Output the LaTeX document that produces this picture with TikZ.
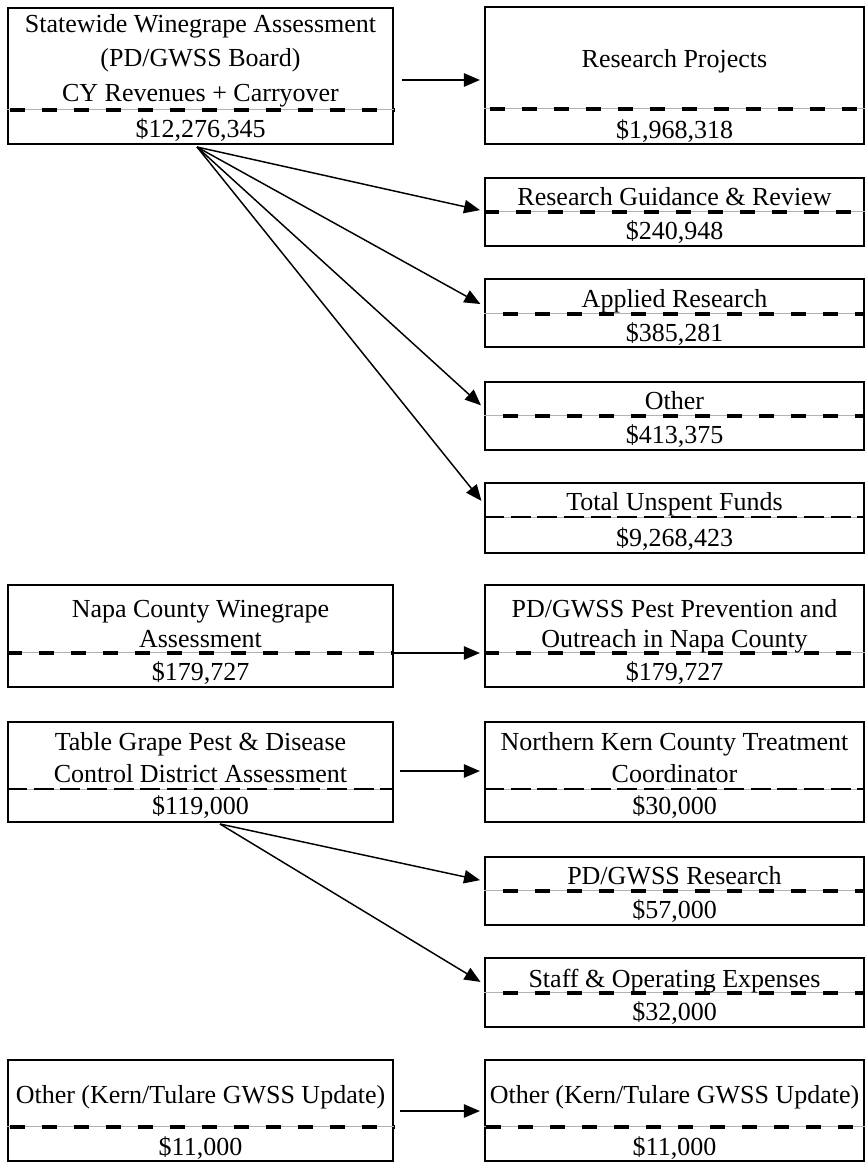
\documentclass[tikz,border=0pt]{standalone}
\usepackage{fontspec}
\setmainfont{Liberation Serif}
\usetikzlibrary{arrows.meta,fit}
\newcommand\fs{\fontsize{19.5}{23}\selectfont}
\begin{document}
\begin{tikzpicture}[x=0.75pt,y=-0.75pt,
  boxst/.style={draw, line width=1.6pt, inner sep=0pt, rectangle},
  lbl/.style={anchor=base, inner sep=0pt, font=\fs},
  guide/.style={draw=black!30, line width=0.5pt},
  thickdash/.style={line width=2.8pt, dash pattern=on 11.25pt off 12.75pt},
  thindash/.style={line width=1.1pt, dash pattern=on 15pt off 5pt},
  arr/.style={line width=1.1pt, -{Triangle[length=12pt,width=10pt]}, shorten >=3pt}]
\useasboundingbox (0,0) rectangle (866,1163);
\fill[white] (0,0) rectangle (866,1163);

% ---- boxes ----
\node[boxst, fit={(8,8) (393,144)}] (b1) {};
\node[boxst, fit={(485,7) (864,144)}] (rp) {};
\node[boxst, fit={(485,178) (864,246)}] (rgr) {};
\node[boxst, fit={(485,279) (864,347)}] (ar) {};
\node[boxst, fit={(485,382) (864,450)}] (ot) {};
\node[boxst, fit={(485,483) (864,553)}] (tu) {};
\node[boxst, fit={(8,585) (393,687)}] (napa) {};
\node[boxst, fit={(485,585) (864,687)}] (napr) {};
\node[boxst, fit={(8,722) (393,822)}] (tg) {};
\node[boxst, fit={(485,722) (864,822)}] (nk) {};
\node[boxst, fit={(485,857) (864,925)}] (pdr) {};
\node[boxst, fit={(485,958) (864,1027)}] (st) {};
\node[boxst, fit={(8,1060) (393,1161)}] (kl) {};
\node[boxst, fit={(485,1060) (864,1161)}] (kr) {};

% ---- dividers ----
\draw[guide] (b1.west |- 0,109) -- (b1.east |- 0,109);
\draw[thickdash] (10,110) -- (b1.east |- 0,110);
\draw[guide] (rp.west |- 0,108) -- (rp.east |- 0,108);
\draw[thickdash] (490,109) -- (rp.east |- 0,109);
\draw[guide] (rgr.west |- 0,211) -- (rgr.east |- 0,211);
\draw[thickdash] (rgr.west |- 0,212) -- (rgr.east |- 0,212);
\draw[guide] (ar.west |- 0,313) -- (ar.east |- 0,313);
\draw[thickdash] (503,314) -- (ar.east |- 0,314);
\draw[guide] (ot.west |- 0,415) -- (ot.east |- 0,415);
\draw[thickdash] (503,416) -- (ot.east |- 0,416);
\draw[guide] (tu.west |- 0,517) -- (tu.east |- 0,517);
\draw[thindash] (tu.west |- 0,517) -- (tu.east |- 0,517);
\draw[guide] (napa.west |- 0,652) -- (napa.east |- 0,652);
\draw[thickdash] (napa.west |- 0,653) -- (napa.east |- 0,653);
\draw[guide] (napr.west |- 0,652) -- (napr.east |- 0,652);
\draw[thickdash] (napr.west |- 0,653) -- (napr.east |- 0,653);
\draw[guide] (tg.west |- 0,789) -- (tg.east |- 0,789);
\draw[thindash] (tg.west |- 0,789) -- (tg.east |- 0,789);
\draw[guide] (nk.west |- 0,789) -- (nk.east |- 0,789);
\draw[thindash] (nk.west |- 0,789) -- (nk.east |- 0,789);
\draw[guide] (pdr.west |- 0,890) -- (pdr.east |- 0,890);
\draw[thickdash] (503,891) -- (pdr.east |- 0,891);
\draw[guide] (st.west |- 0,992) -- (st.east |- 0,992);
\draw[thickdash] (503,993) -- (st.east |- 0,993);
\draw[guide] (kl.west |- 0,1126) -- (kl.east |- 0,1126);
\draw[thickdash] (10,1127) -- (kl.east |- 0,1127);
\draw[guide] (kr.west |- 0,1126) -- (kr.east |- 0,1126);
\draw[thickdash] (486,1127) -- (kr.east |- 0,1127);

% ---- texts ----
\node[lbl] (b1a) at (200.5,33) {Statewide Winegrape Assessment};
\node[lbl] (b1b) at (200.5,67) {(PD/GWSS Board)};
\node[lbl] (b1c) at (200.5,102) {CY Revenues + Carryover};
\node[lbl] (b1v) at (200.5,137) {\$12,276,345};
\node[lbl] (rpa) at (674.5,68) {Research Projects};
\node[lbl] (rpv) at (674.5,138) {\$1,968,318};
\node[lbl] (rgra) at (674.5,205) {Research Guidance \& Review};
\node[lbl] (rgrv) at (674.5,239) {\$240,948};
\node[lbl] (ara) at (674.5,307) {Applied Research};
\node[lbl] (arv) at (674.5,341) {\$385,281};
\node[lbl] (ota) at (674.5,409) {Other};
\node[lbl] (otv) at (674.5,443) {\$413,375};
\node[lbl] (tua) at (674.5,510) {Total Unspent Funds};
\node[lbl] (tuv) at (674.5,546) {\$9,268,423};
\node[lbl] (napaa) at (200.5,617) {Napa County Winegrape};
\node[lbl] (napab) at (200.5,647) {Assessment};
\node[lbl] (napav) at (200.5,680) {\$179,727};
\node[lbl] (napra) at (674.5,617) {PD/GWSS Pest Prevention and};
\node[lbl] (naprb) at (674.5,647) {Outreach in Napa County};
\node[lbl] (naprv) at (674.5,680) {\$179,727};
\node[lbl] (tga) at (200.5,750) {Table Grape Pest \& Disease};
\node[lbl] (tgb) at (200.5,782) {Control District Assessment};
\node[lbl] (tgv) at (200.5,814) {\$119,000};
\node[lbl] (nka) at (674.5,750) {Northern Kern County Treatment};
\node[lbl] (nkb) at (674.5,782) {Coordinator};
\node[lbl] (nkv) at (674.5,814) {\$30,000};
\node[lbl] (pdra) at (674.5,884) {PD/GWSS Research};
\node[lbl] (pdrv) at (674.5,918) {\$57,000};
\node[lbl] (sta) at (674.5,987) {Staff \& Operating Expenses};
\node[lbl] (stv) at (674.5,1020) {\$32,000};
\node[lbl] (kla) at (200.5,1103) {Other (Kern/Tulare GWSS Update)};
\node[lbl] (klv) at (200.5,1155) {\$11,000};
\node[lbl] (kra) at (674.5,1103) {Other (Kern/Tulare GWSS Update)};
\node[lbl] (krv) at (674.5,1155) {\$11,000};

% ---- connectors ----
\coordinate (a1s) at (402,80);
\draw[arr] (a1s) -- (rp.west |- a1s);
\coordinate (fan1) at (197,147);
\draw[arr] (fan1) -- (rgr.west |- 0,211);
\draw[arr] (fan1) -- (ar.west |- 0,306);
\draw[arr] (fan1) -- (ot.west |- 0,408);
\draw[arr] (fan1) -- (tu.west |- 0,504);
\draw[arr] (napa.east |- 0,653) -- (napr.west |- 0,653);
\coordinate (a3s) at (400,771);
\draw[arr] (a3s) -- (nk.west |- a3s);
\coordinate (fan2) at (220,824);
\draw[arr] (fan2) -- (pdr.west |- 0,881);
\draw[arr] (fan2) -- (st.west |- 0,984);
\coordinate (a4s) at (400,1111);
\draw[arr] (a4s) -- (kr.west |- a4s);
\end{tikzpicture}
\end{document}
